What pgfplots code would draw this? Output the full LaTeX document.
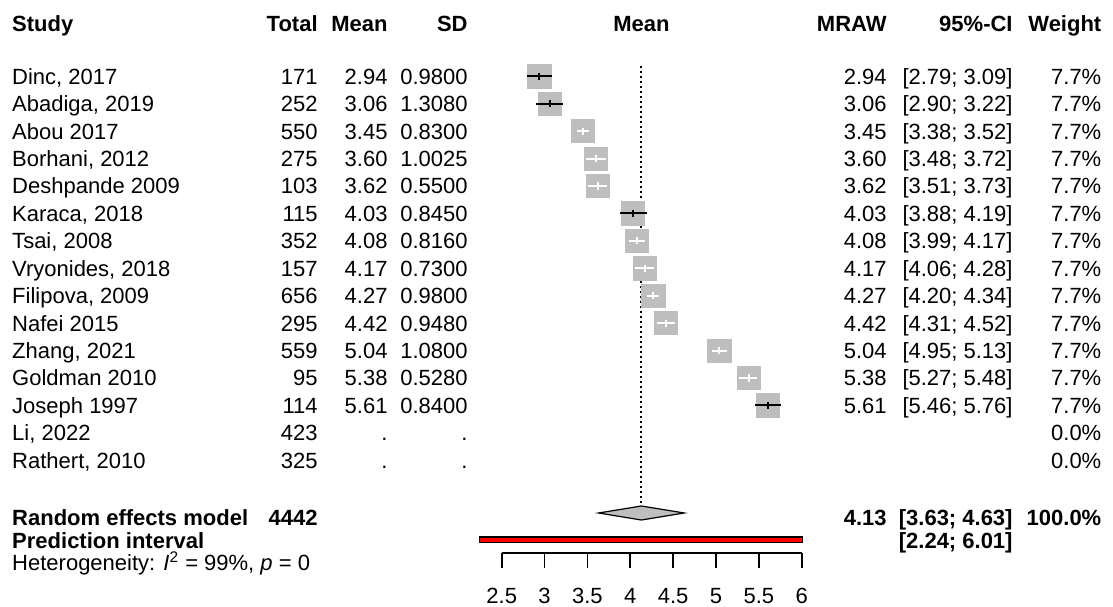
\documentclass[border=0pt]{standalone}
\usepackage{pgfplots}
\pgfplotsset{compat=1.18}
\usepackage{pgfplotstable}
\usepackage{fontspec}
\setmainfont{Liberation Sans}

\definecolor{boxgray}{RGB}{190,190,190}

% study estimates: row, mean, 95% CI, bk = CI drawn black (wider than box)
\pgfplotstableread{
k  mean lo   hi   bk
1  2.94 2.79 3.09 1
2  3.06 2.90 3.22 1
3  3.45 3.38 3.52 0
4  3.60 3.48 3.72 0
5  3.62 3.51 3.73 0
6  4.03 3.88 4.19 1
7  4.08 3.99 4.17 0
8  4.17 4.06 4.28 0
9  4.27 4.20 4.34 0
10 4.42 4.31 4.52 0
11 5.04 4.95 5.13 0
12 5.38 5.27 5.48 0
13 5.61 5.46 5.76 1
}\studies

\newcommand{\fs}{\fontsize{11}{13}\selectfont}
% one text row: row, study, total, mean, sd, mraw, ci, weight
\newcommand{\trow}[8]{%
  \node[lab, anchor=base west] at (axis cs:-3.215,#1) {#2};
  \node[lab] at (axis cs:0.357,#1) {#3};
  \node[lab] at (axis cs:1.173,#1) {#4};
  \node[lab] at (axis cs:2.107,#1) {#5};
  \node[lab] at (axis cs:6.995,#1) {#6};
  \node[lab] at (axis cs:8.465,#1) {#7};
  \node[lab] at (axis cs:9.50,#1) {#8};
}

\begin{document}
\begin{tikzpicture}[lab/.style={font=\fs, inner sep=0pt, anchor=base east, yshift=-3.95pt}]
\begin{axis}[
    x=42.857pt, y=13.715pt, y dir=reverse,
    xmin=-3.353, xmax=9.632, ymin=-1.782, ymax=20.311,
    hide axis, clip=false, clip marker paths=true,
  ]
  \path (rel axis cs:0,0) rectangle (rel axis cs:1,1);

  % reference line at the pooled mean
  \addplot[black, line width=1pt, dash pattern=on 1pt off 1.5pt]
    coordinates {(4.13,0.625) (4.13,16.665)};

  % boxes
  \addplot[only marks, mark=square*, mark size=5.8pt,
    mark options={fill=boxgray, draw=boxgray}]
    table[x=mean, y=k] {\studies};

  % confidence intervals
  \addplot[black, only marks, mark=|, mark size=1.8pt, mark options={line width=1pt},
    restrict expr to domain={\thisrow{bk}}{1:1},
    error bars/.cd, x dir=both, x explicit, error mark=none,
    error bar style={line width=1pt, black}]
    table[x=mean, y=k, x error plus expr=\thisrow{hi}-\thisrow{mean},
          x error minus expr=\thisrow{mean}-\thisrow{lo}] {\studies};
  \addplot[white, only marks, mark=|, mark size=1.8pt, mark options={line width=1pt},
    restrict expr to domain={\thisrow{bk}}{0:0},
    error bars/.cd, x dir=both, x explicit, error mark=none,
    error bar style={line width=1pt, white}]
    table[x=mean, y=k, x error plus expr=\thisrow{hi}-\thisrow{mean},
          x error minus expr=\thisrow{mean}-\thisrow{lo}] {\studies};

  % random effects diamond
  \addplot[fill=boxgray, draw=black, line width=0.6pt]
    coordinates {(3.63,16.92) (4.13,16.665) (4.63,16.92) (4.13,17.176)} -- cycle;

  % prediction interval
  \addplot[fill=red, draw=black, line width=0.7pt]
    coordinates {(2.24,17.80) (6.01,17.80) (6.01,18.00) (2.24,18.00)} -- cycle;

  % header
  \node[lab, anchor=base west, font=\fs\bfseries] at (axis cs:-3.215,-0.918) {Study};
  \node[lab, font=\fs\bfseries] at (axis cs:0.357,-0.918) {Total};
  \node[lab, font=\fs\bfseries] at (axis cs:1.173,-0.918) {Mean};
  \node[lab, font=\fs\bfseries] at (axis cs:2.107,-0.918) {SD};
  \node[lab, anchor=base, font=\fs\bfseries] at (axis cs:4.13,-0.918) {Mean};
  \node[lab, font=\fs\bfseries] at (axis cs:6.995,-0.918) {MRAW};
  \node[lab, font=\fs\bfseries] at (axis cs:8.465,-0.918) {95\%-CI};
  \node[lab, font=\fs\bfseries] at (axis cs:9.50,-0.918) {Weight};

  \trow{1}{Dinc, 2017}{171}{2.94}{0.9800}{2.94}{[2.79; 3.09]}{7.7\%}
  \trow{2}{Abadiga, 2019}{252}{3.06}{1.3080}{3.06}{[2.90; 3.22]}{7.7\%}
  \trow{3}{Abou 2017}{550}{3.45}{0.8300}{3.45}{[3.38; 3.52]}{7.7\%}
  \trow{4}{Borhani, 2012}{275}{3.60}{1.0025}{3.60}{[3.48; 3.72]}{7.7\%}
  \trow{5}{Deshpande 2009}{103}{3.62}{0.5500}{3.62}{[3.51; 3.73]}{7.7\%}
  \trow{6}{Karaca, 2018}{115}{4.03}{0.8450}{4.03}{[3.88; 4.19]}{7.7\%}
  \trow{7}{Tsai, 2008}{352}{4.08}{0.8160}{4.08}{[3.99; 4.17]}{7.7\%}
  \trow{8}{Vryonides, 2018}{157}{4.17}{0.7300}{4.17}{[4.06; 4.28]}{7.7\%}
  \trow{9}{Filipova, 2009}{656}{4.27}{0.9800}{4.27}{[4.20; 4.34]}{7.7\%}
  \trow{10}{Nafei 2015}{295}{4.42}{0.9480}{4.42}{[4.31; 4.52]}{7.7\%}
  \trow{11}{Zhang, 2021}{559}{5.04}{1.0800}{5.04}{[4.95; 5.13]}{7.7\%}
  \trow{12}{Goldman 2010}{95}{5.38}{0.5280}{5.38}{[5.27; 5.48]}{7.7\%}
  \trow{13}{Joseph 1997}{114}{5.61}{0.8400}{5.61}{[5.46; 5.76]}{7.7\%}
  \trow{14}{Li, 2022}{423}{.}{.}{}{}{0.0\%}
  \trow{15}{Rathert, 2010}{325}{.}{.}{}{}{0.0\%}

  % summary rows
  \node[lab, anchor=base west, font=\fs\bfseries] at (axis cs:-3.215,17.103) {Random effects model};
  \node[lab, font=\fs\bfseries] at (axis cs:0.357,17.103) {4442};
  \node[lab, font=\fs\bfseries] at (axis cs:6.995,17.103) {4.13};
  \node[lab, font=\fs\bfseries] at (axis cs:8.465,17.103) {[3.63; 4.63]};
  \node[lab, font=\fs\bfseries] at (axis cs:9.50,17.103) {100.0\%};
  \node[lab, anchor=base west, font=\fs\bfseries] at (axis cs:-3.215,17.92) {Prediction interval};
  \node[lab, font=\fs\bfseries] at (axis cs:8.465,17.92) {[2.24; 6.01]};
  \node[lab, anchor=base west] at (axis cs:-3.215,18.725)
    {Heterogeneity: \textit{I}\textsuperscript{2} = 99\%, \textit{p} = 0};

  % scale line with ticks
  \addplot[black, line width=0.9pt] coordinates {(2.5,18.39) (6,18.39)};
  \coordinate (scl) at (axis cs:2.5,18.39);
\end{axis}

% tick labels of the scale
\begin{axis}[
    at={(scl)}, anchor=south west,
    x=42.857pt, y=1pt,
    xmin=2.5, xmax=6, ymin=0, ymax=1,
    axis x line*=bottom, hide y axis,
    axis line style={-, line width=0.9pt, black},
    xtick={2.5,3,...,6},
    tick align=outside, major tick length=7.35pt,
    tick style={line width=0.9pt, black},
    xticklabel style={font=\fs, inner sep=0pt, yshift=-10pt},
    /pgf/number format/assume math mode=true,
  ]
\end{axis}
\end{tikzpicture}
\end{document}
